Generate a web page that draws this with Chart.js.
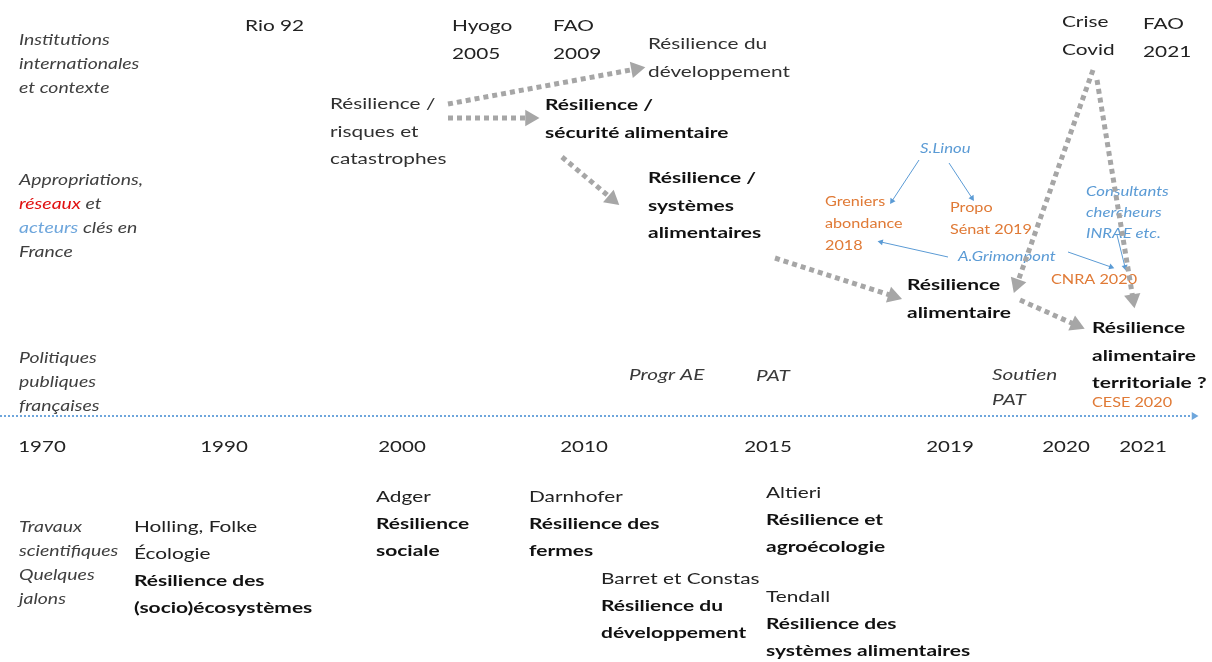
<!DOCTYPE html>
<html><head><meta charset="utf-8">
<script src="https://cdn.jsdelivr.net/npm/chart.js@4/dist/chart.umd.min.js"></script>
<style>html,body{margin:0;padding:0;background:#fff}#wrap{width:1212px;height:662px}canvas{display:block}</style>
</head><body><div id="wrap"><canvas id="c" width="1212" height="662"></canvas></div>
<script>
// ---- Data (layout units: x 0..1212 left→right, y 0..662 top→bottom) ----
const years = ['1970','1990','2000','2010','2015','2019','2020','2021'];
const yearPos = [42,224,402,584,768,950,1066,1143];
const yearRow = 447;

// Timeline (dotted axis)
const timelineStart = [0,416];
const timelineEnd = [1194,416];

// Row headers (left column); runs: [text, colourKey]
const headerLines = [
  [[['Institutions','g']],[['internationales','g']],[['et contexte','g']]],
  [[['Appropriations,','g']],[['réseaux','r'],[' et','g']],[['acteurs','b'],[' clés en','g']],[['France','g']]],
  [[['Politiques','g']],[['publiques','g']],[['françaises','g']]],
  [[['Travaux','g']],[['scientifiques','g']],[['Quelques','g']],[['jalons','g']]]
];
const headerPos = [[19,40],[19,180],[19,358],[19,527]];

// International events
const eventLines = [['Rio 92'],['Hyogo','2005'],['FAO','2009'],['Crise','Covid'],['FAO','2021']];
const eventPos = [[245,26],[452,26],[553,26],[1062,22],[1143,24]];

// Concepts (regular)
const conceptLines = [['Résilience du','développement'],['Résilience /','risques et','catastrophes']];
const conceptPos = [[648,44],[330,104]];

// Concepts (bold)
const keyConceptLines = [
  ['Résilience /','sécurité alimentaire'],
  ['Résilience /','systèmes','alimentaires'],
  ['Résilience','alimentaire'],
  ['Résilience','alimentaire','territoriale ?']
];
const keyConceptPos = [[545,105],[648,178],[907,285],[1092,328]];

// French networks (orange)
const networkLines = [['Greniers','abondance','2018'],['Propo','Sénat 2019'],['CNRA 2020'],['CESE 2020']];
const networkPos = [[825,202],[950,208],[1051,280],[1092,403]];

// Key actors (blue)
const actorLines = [['S.Linou'],['A.Grimonpont'],['Consultants','chercheurs','INRAE etc.']];
const actorPos = [[920,149],[958,257],[1086,192]];

// French public policies
const policyLines = [['Progr AE'],['PAT'],['Soutien','PAT']];
const policyPos = [[629,375],[756,376],[992,375]];

// Scientific works: author line(s) then bold concept lines
const studyLines = [
  ['Holling, Folke','Écologie','Résilience des','(socio)écosystèmes'],
  ['Adger','Résilience','sociale'],
  ['Darnhofer','Résilience des','fermes'],
  ['Barret et Constas','Résilience du','développement'],
  ['Altieri','Résilience et','agroécologie'],
  ['Tendall','Résilience des','systèmes alimentaires']
];
const studyBoldFrom = [2,1,1,1,1,1];
const studyPos = [[134,527],[376,497],[529,497],[601,579],[766,493],[766,597]];

// Conceptual flow arrows (grey dotted): [x0,y0,x1,y1]
const flowArrows = [
  [448,104,636,69],
  [448,118,530,118],
  [562,157,612,199],
  [775,258,893,296],
  [1093,70,1017,284],
  [1097,80,1133,299],
  [1020,300,1076,325]
];
// Actor links (thin blue): [x0,y0,x1,y1]
const linkArrows = [
  [919,160,892,201],
  [949,163,972,198],
  [948,257,881,242],
  [1068,252,1111,267],
  [1117,235,1125,267]
];

// ---- Styles ----
const FONT = 'Lato, "Open Sans", sans-serif';
const colours = {g:'#404040', r:'#e01010', b:'#6ea6dc'};
const styles = {
  header:  {font:'italic 14.5px '+FONT, color:'#404040', lh:24, k:1.34},
  event:   {font:'16px '+FONT, color:'#222222', lh:28, k:1.3},
  concept: {font:'16px '+FONT, color:'#303030', lh:27.5, k:1.3},
  key:     {font:'bold 16px '+FONT, color:'#111111', lh:27.5, k:1.31},
  network: {font:'13.5px '+FONT, color:'#e07a36', lh:22, k:1.2},
  actor:   {font:'italic 13.5px '+FONT, color:'#5b9bd5', lh:21, k:1.24},
  policy:  {font:'italic 16px '+FONT, color:'#3a3a3a', lh:25, k:1.3},
  year:    {font:'16px '+FONT, color:'#222222', k:1.28},
  study:   {font:'16px '+FONT, color:'#222222', lh:27, k:1.3},
  studyB:  {font:'bold 16px '+FONT, color:'#111111', lh:27, k:1.31}
};

// ---- Datasets ----
function angleFor(chart, a){
  const sx = chart.scales.x, sy = chart.scales.y;
  const dx = sx.getPixelForValue(a[2]) - sx.getPixelForValue(a[0]);
  const dy = sy.getPixelForValue(a[3]) - sy.getPixelForValue(a[1]);
  return Math.atan2(dx, -dy) * 180 / Math.PI;
}
function arrowDataset(a, colour, width, dash, head){
  return {
    data:[{x:a[0],y:a[1]},{x:a[2],y:a[3]}],
    showLine:true, borderColor:colour, borderWidth:width, borderDash:dash, borderCapStyle:'butt',
    pointStyle:'triangle', pointBackgroundColor:colour, pointBorderColor:colour, pointBorderWidth:0,
    pointRadius:(c)=> c.dataIndex === 1 ? head : 0,
    pointHoverRadius:0,
    pointRotation:(c)=> angleFor(c.chart, a),
    clip:false
  };
}
const datasets = [];
datasets.push(arrowDataset([timelineStart[0],timelineStart[1],timelineEnd[0],timelineEnd[1]], '#6ea6dc', 2, [2,2], 4.5));
flowArrows.forEach(a => datasets.push(arrowDataset(a, '#a6a6a6', 5, [5,4], 9.5)));
linkArrows.forEach(a => datasets.push(arrowDataset(a, '#5b9bd5', 1, [], 3.5)));

// ---- Text plugin ----
function putText(ctx, t, x, y, k, align){
  ctx.save();
  ctx.translate(x, y);
  ctx.scale(k, 1);
  ctx.textAlign = align || 'left';
  ctx.fillText(t, 0, 0);
  ctx.restore();
}
function drawBlock(ctx, chart, lines, pos, style, align){
  const sx = chart.scales.x, sy = chart.scales.y;
  const x = sx.getPixelForValue(pos[0]);
  lines.forEach((ln, i) => {
    const y = sy.getPixelForValue(pos[1] + i * (style.lh || 0));
    ctx.font = style.font; ctx.fillStyle = style.color;
    putText(ctx, ln, x, y, style.k, align);
  });
}
const textPlugin = {
  id:'texts',
  beforeDatasetsDraw(chart){
    const ctx = chart.ctx, sx = chart.scales.x, sy = chart.scales.y;
    ctx.save();
    ctx.textBaseline = 'middle';
    headerLines.forEach((blk, bi) => {
      const st = styles.header;
      blk.forEach((runs, li) => {
        let x = sx.getPixelForValue(headerPos[bi][0]);
        const y = sy.getPixelForValue(headerPos[bi][1] + li * st.lh);
        ctx.font = st.font;
        runs.forEach(([t, c]) => { ctx.fillStyle = colours[c]; putText(ctx, t, x, y, st.k); x += ctx.measureText(t).width * st.k; });
      });
    });
    eventLines.forEach((l,i)=>drawBlock(ctx, chart, l, eventPos[i], styles.event));
    conceptLines.forEach((l,i)=>drawBlock(ctx, chart, l, conceptPos[i], styles.concept));
    keyConceptLines.forEach((l,i)=>drawBlock(ctx, chart, l, keyConceptPos[i], styles.key));
    networkLines.forEach((l,i)=>drawBlock(ctx, chart, l, networkPos[i], styles.network));
    actorLines.forEach((l,i)=>drawBlock(ctx, chart, l, actorPos[i], styles.actor));
    policyLines.forEach((l,i)=>drawBlock(ctx, chart, l, policyPos[i], styles.policy));
    years.forEach((t,i)=>drawBlock(ctx, chart, [t], [yearPos[i], yearRow], styles.year, 'center'));
    studyLines.forEach((l,i)=>{
      const b = studyBoldFrom[i];
      drawBlock(ctx, chart, l.slice(0,b), studyPos[i], styles.study);
      drawBlock(ctx, chart, l.slice(b), [studyPos[i][0], studyPos[i][1] + b*styles.study.lh], styles.studyB);
    });
    ctx.restore();
  }
};

new Chart(document.getElementById('c'), {
  type:'scatter',
  data:{datasets},
  options:{
    responsive:false, animation:false, events:[],
    layout:{padding:0, autoPadding:false},
    plugins:{legend:{display:false}, tooltip:{enabled:false}},
    scales:{
      x:{type:'linear', min:0, max:1212, display:false},
      y:{type:'linear', min:0, max:662, reverse:true, display:false}
    }
  },
  plugins:[textPlugin]
});
</script></body></html>
